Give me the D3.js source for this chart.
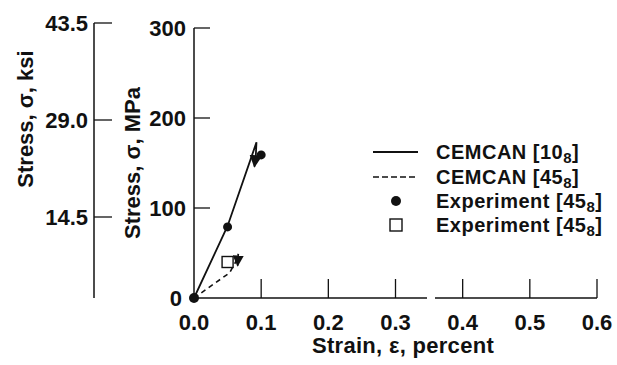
<!DOCTYPE html>
<html>
<head>
<meta charset="utf-8">
<script src="https://cdn.jsdelivr.net/npm/d3@7"></script>
<style>
  body { margin: 0; background: #fff; }
  text { font-family: "Liberation Sans", Arial, sans-serif; font-weight: bold; fill: #111; }
</style>
</head>
<body>
<div id="chart"></div>
<script>
// Chart data
const strainTicks = [0.0, 0.1, 0.2, 0.3, 0.4, 0.5, 0.6];
const mpaTicks = [0, 100, 200, 300];
const ksiTicks = [14.5, 29.0, 43.5];

// CEMCAN [10_8] prediction (solid)
const solidStrain = [0, 0.05, 0.093, 0.092, 0.090];
const solidStress = [0, 80, 173, 158, 146];

// CEMCAN [45_8] prediction (dashed)
const dashStrain = [0, 0.053, 0.062, 0.066, 0.065];
const dashStress = [0, 28, 40, 49, 36];

// Experiments
const dotStrain = [0, 0.05, 0.1];
const dotStress = [0, 79, 159];
const squareStrain = [0.05];
const squareStress = [40];

const legendLabels = ["CEMCAN [10", "CEMCAN [45", "Experiment [45", "Experiment [45"];

const width = 617, height = 365;

const svg = d3.select('#chart').append('svg')
    .attr('width', width)
    .attr('height', height);

// Scales
const x = d3.scaleLinear().domain([0, 0.6]).range([194, 597]);
const y = d3.scaleLinear().domain([0, 300]).range([298, 28]);
const yKsi = d3.scaleLinear().domain([14.5, 43.5]).range([217, 23]);

// x axis (line with a small break after 0.3)
svg.append('line').attr('x1', x(0)).attr('x2', 427).attr('y1', y(0)).attr('y2', y(0))
    .attr('stroke', '#111').attr('stroke-width', 1.5);
svg.append('line').attr('x1', 435).attr('x2', x(0.6)).attr('y1', y(0)).attr('y2', y(0))
    .attr('stroke', '#111').attr('stroke-width', 1.5);
svg.selectAll('.xtick').data(strainTicks.slice(1)).join('line')
    .attr('x1', d => x(d)).attr('x2', d => x(d))
    .attr('y1', y(0)).attr('y2', y(0) - 19)
    .attr('stroke', '#111').attr('stroke-width', 1.3);
svg.selectAll('.xlab').data(strainTicks).join('text')
    .attr('x', d => x(d)).attr('y', 330)
    .attr('text-anchor', 'middle').attr('font-size', 22)
    .text(d => d.toFixed(1));
svg.append('text').attr('x', 403).attr('y', 353)
    .attr('text-anchor', 'middle').attr('font-size', 22)
    .attr('letter-spacing', 0.3)
    .text('Strain, \u03b5, percent');

// MPa axis
svg.append('line').attr('x1', x(0)).attr('x2', x(0)).attr('y1', y(0)).attr('y2', y(300))
    .attr('stroke', '#111').attr('stroke-width', 1.5);
svg.selectAll('.ytick').data(mpaTicks.slice(1)).join('line')
    .attr('x1', x(0)).attr('x2', x(0) + 16)
    .attr('y1', d => y(d)).attr('y2', d => y(d))
    .attr('stroke', '#111').attr('stroke-width', 1.3);
svg.selectAll('.ylab').data(mpaTicks).join('text')
    .attr('x', d => d === 0 ? 182 : 186).attr('y', d => y(d) + 8)
    .attr('text-anchor', 'end').attr('font-size', 22)
    .text(d => d);
svg.append('text')
    .attr('transform', 'translate(140,163) rotate(-90)')
    .attr('text-anchor', 'middle').attr('font-size', 22)
    .text('Stress, \u03c3, MPa');

// ksi axis
svg.append('line').attr('x1', 94).attr('x2', 94).attr('y1', 298).attr('y2', yKsi(43.5))
    .attr('stroke', '#111').attr('stroke-width', 1.5);
svg.selectAll('.ktick').data(ksiTicks).join('line')
    .attr('x1', 94).attr('x2', 112)
    .attr('y1', d => yKsi(d)).attr('y2', d => yKsi(d))
    .attr('stroke', '#111').attr('stroke-width', 1.3);
svg.selectAll('.klab').data(ksiTicks).join('text')
    .attr('x', 88).attr('y', d => yKsi(d) + 8)
    .attr('text-anchor', 'end').attr('font-size', 22)
    .text(d => d.toFixed(1));
svg.append('text')
    .attr('transform', 'translate(33,119) rotate(-90)')
    .attr('text-anchor', 'middle').attr('font-size', 22)
    .text('Stress, \u03c3, ksi');

// Arrow marker
svg.append('defs').append('marker')
    .attr('id', 'arrow').attr('viewBox', '0 0 10 10')
    .attr('refX', 9).attr('refY', 5)
    .attr('markerWidth', 7).attr('markerHeight', 7)
    .attr('orient', 'auto')
  .append('path').attr('d', 'M0,0 L10,5 L0,10 z').attr('fill', '#111');

const line = d3.line().x(d => x(d[0])).y(d => y(d[1]));

svg.append('path')
    .datum(d3.zip(solidStrain, solidStress))
    .attr('d', line).attr('fill', 'none')
    .attr('stroke', '#111').attr('stroke-width', 1.8)
    .attr('marker-end', 'url(#arrow)');

svg.append('path')
    .datum(d3.zip(dashStrain, dashStress))
    .attr('d', line).attr('fill', 'none')
    .attr('stroke', '#111').attr('stroke-width', 1.6)
    .attr('stroke-dasharray', '5,4')
    .attr('marker-end', 'url(#arrow)');

// Experiment markers
svg.selectAll('.dot').data(d3.zip(dotStrain, dotStress)).join('circle')
    .attr('cx', d => x(d[0])).attr('cy', d => y(d[1]))
    .attr('r', d => d[1] === 0 ? 5 : 4.5)
    .attr('fill', '#111');

svg.selectAll('.sq').data(d3.zip(squareStrain, squareStress)).join('rect')
    .attr('x', d => x(d[0]) - 5.5).attr('y', d => y(d[1]) - 5.5)
    .attr('width', 11).attr('height', 11)
    .attr('fill', '#fff').attr('stroke', '#111').attr('stroke-width', 1.4);

// Legend
const rowsY = [152, 177, 201, 225];
const legend = svg.append('g');
legend.append('line').attr('x1', 373).attr('x2', 418).attr('y1', rowsY[0]).attr('y2', rowsY[0])
    .attr('stroke', '#111').attr('stroke-width', 1.8);
legend.append('line').attr('x1', 373).attr('x2', 418).attr('y1', rowsY[1]).attr('y2', rowsY[1])
    .attr('stroke', '#111').attr('stroke-width', 1.4).attr('stroke-dasharray', '6,3');
legend.append('circle').attr('cx', 396).attr('cy', rowsY[2]).attr('r', 5).attr('fill', '#111');
legend.append('rect').attr('x', 390).attr('y', rowsY[3] - 6).attr('width', 12).attr('height', 12)
    .attr('fill', '#fff').attr('stroke', '#111').attr('stroke-width', 1.4);

legendLabels.forEach((lab, i) => {
  const t = legend.append('text')
      .attr('x', 436).attr('y', rowsY[i] + 7)
      .attr('font-size', 20)
      .attr('letter-spacing', 0.5);
  t.append('tspan').text(lab);
  t.append('tspan').attr('font-size', 15).attr('dy', 4).text('8');
  t.append('tspan').attr('dy', -4).text(']');
});
</script>
</body>
</html>
